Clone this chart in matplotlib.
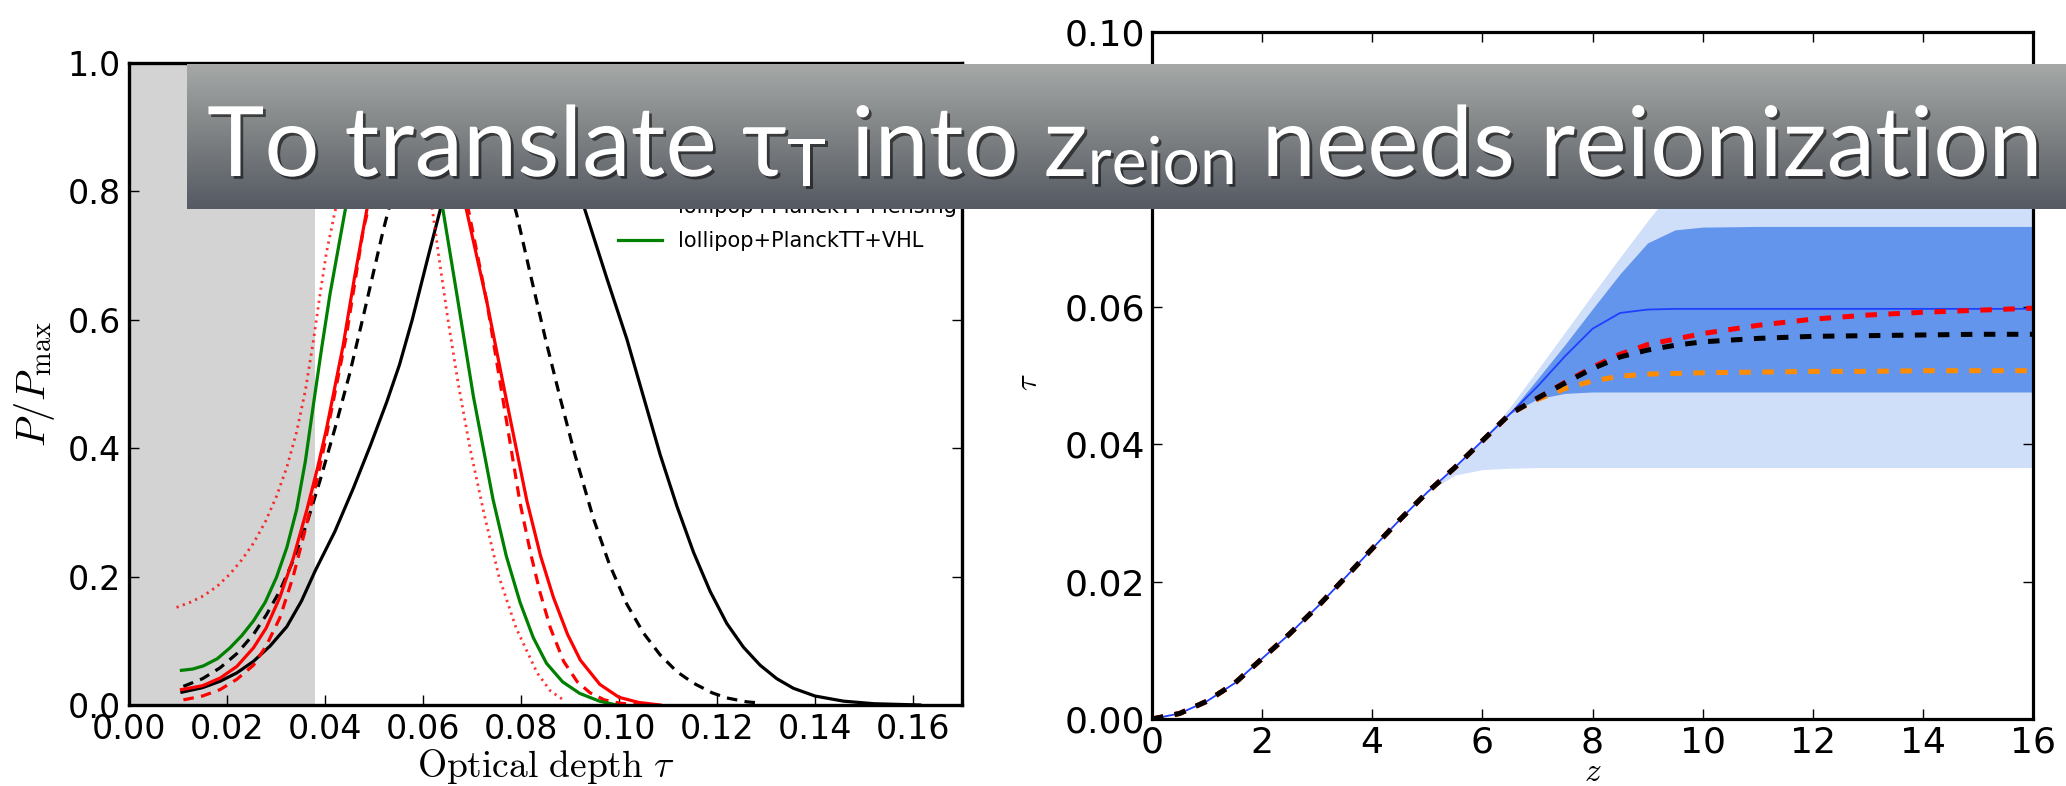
import matplotlib
matplotlib.use("Agg")
import matplotlib.pyplot as plt
import numpy as np
import matplotlib.patheffects as pe
from matplotlib.colors import LinearSegmentedColormap
from matplotlib.ticker import FormatStrFormatter

plt.rcParams['mathtext.fontset'] = 'cm'

# ---------------- data: left panel (normalised posteriors) ----------------
tau_excluded_max = 0.038

tau_planckTT = [0.0108, 0.0150, 0.0186, 0.0220, 0.0254, 0.0288, 0.0322, 0.0352, 0.0380, 0.0420,
                0.0458, 0.0492, 0.0526, 0.0552, 0.0578, 0.0611, 0.0650, 0.0690, 0.0730, 0.0775,
                0.0820, 0.0860, 0.0900, 0.0931, 0.0975, 0.1016, 0.1050, 0.1084, 0.1118, 0.1152,
                0.1186, 0.1220, 0.1254, 0.1288, 0.1322, 0.1356, 0.1400, 0.1458, 0.1520, 0.1614]
P_planckTT = [0.020, 0.027, 0.037, 0.050, 0.068, 0.092, 0.122, 0.162, 0.209, 0.270,
              0.338, 0.403, 0.472, 0.530, 0.600, 0.700, 0.815, 0.910, 0.968, 1.000,
              0.975, 0.920, 0.845, 0.770, 0.665, 0.570, 0.480, 0.390, 0.310, 0.238,
              0.177, 0.127, 0.090, 0.062, 0.041, 0.026, 0.014, 0.006, 0.002, 0.000]

tau_planckTT_lens = [0.0111, 0.0150, 0.0186, 0.0220, 0.0254, 0.0280, 0.0308, 0.0335, 0.0363, 0.0390,
                     0.0420, 0.0450, 0.0478, 0.0519, 0.0560, 0.0600, 0.0655, 0.0710, 0.0750, 0.0791,
                     0.0820, 0.0850, 0.0880, 0.0910, 0.0948, 0.0980, 0.1016, 0.1050, 0.1084, 0.1118,
                     0.1152, 0.1190, 0.1220, 0.1260, 0.1288]
P_planckTT_lens = [0.029, 0.041, 0.058, 0.080, 0.110, 0.140, 0.178, 0.225, 0.283, 0.350,
                   0.430, 0.515, 0.605, 0.740, 0.860, 0.945, 1.000, 0.955, 0.875, 0.765,
                   0.668, 0.570, 0.478, 0.390, 0.290, 0.220, 0.157, 0.112, 0.078, 0.052,
                   0.034, 0.019, 0.011, 0.005, 0.003]

tau_lol_TT = [0.0107, 0.0150, 0.0186, 0.0220, 0.0254, 0.0280, 0.0308, 0.0335, 0.0363, 0.0385,
              0.0403, 0.0437, 0.0460, 0.0485, 0.0510, 0.0540, 0.0587, 0.0630, 0.0660, 0.0689,
              0.0730, 0.0771, 0.0812, 0.0840, 0.0866, 0.0895, 0.0921, 0.0961, 0.1000, 0.1040,
              0.1084]
P_lol_TT = [0.024, 0.030, 0.042, 0.060, 0.089, 0.120, 0.168, 0.228, 0.304, 0.370,
            0.430, 0.560, 0.665, 0.770, 0.860, 0.940, 1.000, 0.955, 0.875, 0.770,
            0.629, 0.472, 0.318, 0.232, 0.168, 0.110, 0.070, 0.032, 0.012, 0.004,
            0.000]

tau_lol_TT_lens = [0.0111, 0.0150, 0.0186, 0.0220, 0.0254, 0.0280, 0.0308, 0.0335, 0.0363, 0.0385,
                   0.0403, 0.0444, 0.0478, 0.0500, 0.0530, 0.0585, 0.0640, 0.0670, 0.0693, 0.0730,
                   0.0764, 0.0798, 0.0820, 0.0839, 0.0860, 0.0887, 0.0915, 0.0941, 0.0970, 0.1000,
                   0.1040]
P_lol_TT_lens = [0.008, 0.014, 0.024, 0.040, 0.062, 0.092, 0.136, 0.200, 0.283, 0.355,
                 0.420, 0.577, 0.740, 0.810, 0.895, 1.000, 0.930, 0.850, 0.770, 0.629,
                 0.472, 0.315, 0.235, 0.175, 0.120, 0.068, 0.036, 0.019, 0.008, 0.003,
                 0.000]

tau_lol = [0.0097, 0.0125, 0.0152, 0.0180, 0.0206, 0.0230, 0.0254, 0.0278, 0.0301, 0.0322,
           0.0342, 0.0360, 0.0376, 0.0390, 0.0403, 0.0429, 0.0460, 0.0500, 0.0530, 0.0560,
           0.0590, 0.0614, 0.0632, 0.0651, 0.0672, 0.0696, 0.0724, 0.0755, 0.0790, 0.0833,
           0.0860, 0.0890]
P_lol = [0.152, 0.160, 0.170, 0.185, 0.204, 0.226, 0.252, 0.285, 0.325, 0.370,
         0.425, 0.490, 0.566, 0.640, 0.705, 0.800, 0.900, 0.975, 1.000, 0.975,
         0.900, 0.800, 0.700, 0.600, 0.500, 0.400, 0.300, 0.200, 0.120, 0.050,
         0.022, 0.006]

tau_lol_VHL = [0.0107, 0.0130, 0.0152, 0.0180, 0.0206, 0.0230, 0.0254, 0.0278, 0.0301, 0.0322,
               0.0342, 0.0360, 0.0376, 0.0393, 0.0410, 0.0441, 0.0470, 0.0500, 0.0541, 0.0580,
               0.0612, 0.0641, 0.0669, 0.0703, 0.0743, 0.0770, 0.0798, 0.0825, 0.0852, 0.0885,
               0.0920, 0.0960, 0.0995]
P_lol_VHL = [0.054, 0.056, 0.061, 0.072, 0.089, 0.108, 0.131, 0.160, 0.199, 0.245,
             0.304, 0.380, 0.466, 0.555, 0.639, 0.770, 0.870, 0.945, 1.000, 0.950,
             0.870, 0.770, 0.640, 0.480, 0.320, 0.232, 0.160, 0.105, 0.065, 0.036,
             0.018, 0.006, 0.000]

left_xticks = [0.00, 0.02, 0.04, 0.06, 0.08, 0.10, 0.12, 0.14, 0.16]
left_yticks = [0.0, 0.2, 0.4, 0.6, 0.8, 1.0]

# ---------------- data: right panel tau(z) ----------------
z_curve = [0, 0.5, 1, 1.5, 2, 2.5, 3, 3.5, 4, 4.5, 5, 5.5, 6, 6.5,
           7, 7.5, 8, 8.5, 9, 9.5, 10, 11, 12, 13, 14, 15, 16]
tau_blue = [0, 0.0008, 0.0026, 0.0052, 0.0088, 0.0124, 0.0163, 0.0205, 0.0248, 0.0290,
            0.0330, 0.0366, 0.0405, 0.0444,
            0.0484, 0.0528, 0.0568, 0.0591, 0.0596, 0.0597, 0.0597, 0.0597, 0.0597,
            0.0597, 0.0597, 0.0597, 0.0597]
tau_black = [0, 0.0008, 0.0026, 0.0052, 0.0088, 0.0124, 0.0163, 0.0205, 0.0248, 0.0290,
             0.0330, 0.0366, 0.0405, 0.0444,
             0.0467, 0.0489, 0.0510, 0.0527, 0.0537, 0.0544, 0.0549, 0.0554, 0.0557,
             0.0558, 0.0559, 0.0560, 0.0560]
tau_red = [0, 0.0008, 0.0026, 0.0052, 0.0088, 0.0124, 0.0163, 0.0205, 0.0248, 0.0290,
           0.0330, 0.0366, 0.0405, 0.0444,
           0.0467, 0.0490, 0.0512, 0.0531, 0.0545, 0.0553, 0.0561, 0.0573, 0.0582,
           0.0588, 0.0592, 0.0595, 0.0598]
tau_orange = [0, 0.0008, 0.0026, 0.0052, 0.0088, 0.0124, 0.0163, 0.0205, 0.0248, 0.0290,
              0.0330, 0.0366, 0.0405, 0.0444,
              0.0465, 0.0481, 0.0492, 0.0499, 0.0502, 0.0503, 0.0504, 0.0505, 0.0506,
              0.0506, 0.0507, 0.0507, 0.0507]
band68_lo = [0, 0.0008, 0.0026, 0.0052, 0.0088, 0.0124, 0.0163, 0.0205, 0.0248, 0.0290,
             0.0330, 0.0366, 0.0405, 0.0444,
             0.0466, 0.0474, 0.0476, 0.0476, 0.0476, 0.0476, 0.0476, 0.0476, 0.0476,
             0.0476, 0.0476, 0.0476, 0.0476]
band68_hi = [0, 0.0008, 0.0026, 0.0052, 0.0088, 0.0124, 0.0163, 0.0205, 0.0248, 0.0290,
             0.0330, 0.0366, 0.0405, 0.0446,
             0.0495, 0.0545, 0.0597, 0.0648, 0.0693, 0.0712, 0.0716, 0.0717, 0.0717,
             0.0717, 0.0717, 0.0717, 0.0717]
band95_lo = [0, 0.0008, 0.0026, 0.0052, 0.0088, 0.0124, 0.0163, 0.0205, 0.0248, 0.0290,
             0.0330, 0.0355, 0.0363, 0.0365,
             0.0366, 0.0366, 0.0366, 0.0366, 0.0366, 0.0366, 0.0366, 0.0366, 0.0366,
             0.0366, 0.0366, 0.0366, 0.0366]
band95_hi = [0, 0.0008, 0.0026, 0.0052, 0.0088, 0.0124, 0.0163, 0.0205, 0.0248, 0.0290,
             0.0330, 0.0366, 0.0407, 0.0454,
             0.0508, 0.0563, 0.0618, 0.0672, 0.0725, 0.0775, 0.0818, 0.0850, 0.0850,
             0.0850, 0.0850, 0.0850, 0.0850]

right_xticks = [0, 2, 4, 6, 8, 10, 12, 14, 16]
right_yticks = [0.00, 0.02, 0.04, 0.06, 0.08, 0.10]

banner_pieces = [("To translate", 1.0, 0), (" ", 1.0, 0), ("\u03c4", 1.0, 0), ("T", 0.68, -10),
                 (" ", 1.0, 0), ("into z", 1.0, 0), ("reion", 0.68, -8), (" ", 1.0, 0),
                 ("needs reionization", 1.0, 0)]

# ---------------- figure ----------------
W, H = 2066, 786
fig = plt.figure(figsize=(W / 100, H / 100), dpi=100)
fig.patch.set_facecolor('white')

# left panel
axL = fig.add_axes([129 / W, 1 - 705 / H, (962 - 129) / W, (705 - 63) / H])
axL.axvspan(0, tau_excluded_max, color='#d3d3d3', lw=0, zorder=0)
axL.plot(tau_planckTT, P_planckTT, color='k', lw=2.3, label='PlanckTT')
axL.plot(tau_planckTT_lens, P_planckTT_lens, color='k', lw=2.3, ls=(0, (3.3, 2.3)),
         label='PlanckTT+lensing')
axL.plot(tau_lol, P_lol, color='r', lw=2.0, ls=(0, (0.8, 1.6)), alpha=0.8)
axL.plot(tau_lol_TT, P_lol_TT, color='r', lw=2.3, label='lollipop+PlanckTT')
axL.plot(tau_lol_TT_lens, P_lol_TT_lens, color='r', lw=2.3, ls=(0, (3.3, 2.3)),
         label='lollipop+PlanckTT+lensing')
axL.plot(tau_lol_VHL, P_lol_VHL, color='green', lw=2.3, label='lollipop+PlanckTT+VHL')
axL.set_xlim(0, 0.17)
axL.set_ylim(0, 1.0)
axL.set_xticks(left_xticks)
axL.set_yticks(left_yticks)
axL.xaxis.set_major_formatter(FormatStrFormatter('%.2f'))
axL.yaxis.set_major_formatter(FormatStrFormatter('%.1f'))
axL.tick_params(direction='in', length=7, width=1, top=True, right=True, labelsize=24, pad=6)
for s in axL.spines.values():
    s.set_linewidth(2.4)
axL.set_xlabel(r'$\mathrm{Optical\ depth}\ \tau$', fontsize=27)
axL.xaxis.set_label_coords(0.5, -0.066)
axL.set_ylabel(r'$P/P_{\rm max}$', fontsize=29)
axL.yaxis.set_label_coords(-0.086, 0.5)
axL.legend(loc='lower left', bbox_to_anchor=((618 - 129) / 833, (705 - 251) / 642),
           frameon=False, fontsize=15, handlelength=2.1, handletextpad=0.77,
           labelspacing=0.66, borderpad=0, borderaxespad=0)

# right panel
axR = fig.add_axes([1152 / W, 1 - 719 / H, (2033 - 1152) / W, (719 - 32) / H])
axR.fill_between(z_curve, band95_lo, band95_hi, color='cornflowerblue', alpha=0.3, lw=0)
axR.fill_between(z_curve, band68_lo, band68_hi, color='cornflowerblue', alpha=1.0, lw=0)
axR.plot(z_curve, tau_blue, color='#1f3fff', lw=1.3)
axR.plot(z_curve, tau_orange, color='darkorange', lw=3.6, ls=(0, (2.3, 2.3)))
axR.plot(z_curve, tau_red, color='red', lw=3.6, ls=(0, (2.3, 2.3)))
axR.plot(z_curve, tau_black, color='black', lw=3.6, ls=(0, (2.3, 2.3)))
axR.set_xlim(0, 16)
axR.set_ylim(0, 0.10)
axR.set_xticks(right_xticks)
axR.set_yticks(right_yticks)
axR.yaxis.set_major_formatter(FormatStrFormatter('%.2f'))
axR.tick_params(direction='in', length=7, width=1, top=True, right=True, labelsize=26, pad=5)
for s in axR.spines.values():
    s.set_linewidth(2.3)
axR.set_xlabel(r'$z$', fontsize=24)
axR.xaxis.set_label_coords(0.5, -0.052)
axR.set_ylabel(r'$\tau$', fontsize=22)
axR.yaxis.set_label_coords(-0.124, 0.49)

# banner
axB = fig.add_axes([187 / W, 1 - 209 / H, (W - 187) / W, (209 - 64) / H], zorder=5)
grad = np.linspace(0, 1, 256)[:, None]
cmap = LinearSegmentedColormap.from_list('banner', ['#a5a8a7', '#7d8183', '#555a63'])
axB.imshow(grad, aspect='auto', cmap=cmap, extent=[0, 1, 0, 1], origin='upper')
axB.set_axis_off()

renderer = fig.canvas.get_renderer()
base_size = 70
family = ['Lato', 'DejaVu Sans']
shadow = [pe.withSimplePatchShadow(offset=(2, -2), shadow_rgbFace='black', alpha=0.55)]

def text_width(s, size):
    t = fig.text(0, 0, s, fontsize=size, family=family)
    w = t.get_window_extent(renderer).width
    t.remove()
    return w

x = 207.0
baseline = 176.0
for s, scale, dy in banner_pieces:
    size = base_size * scale
    if s == " ":
        x += text_width("n n", size) - text_width("nn", size)
        continue
    t = fig.text(x / W, (H - baseline + dy) / H, s, fontsize=size, family=family,
                 color='white', ha='left', va='baseline', zorder=10,
                 path_effects=shadow)
    bb = t.get_window_extent(renderer)
    x = bb.x1

fig.savefig('out.png', dpi=100, facecolor='white')
